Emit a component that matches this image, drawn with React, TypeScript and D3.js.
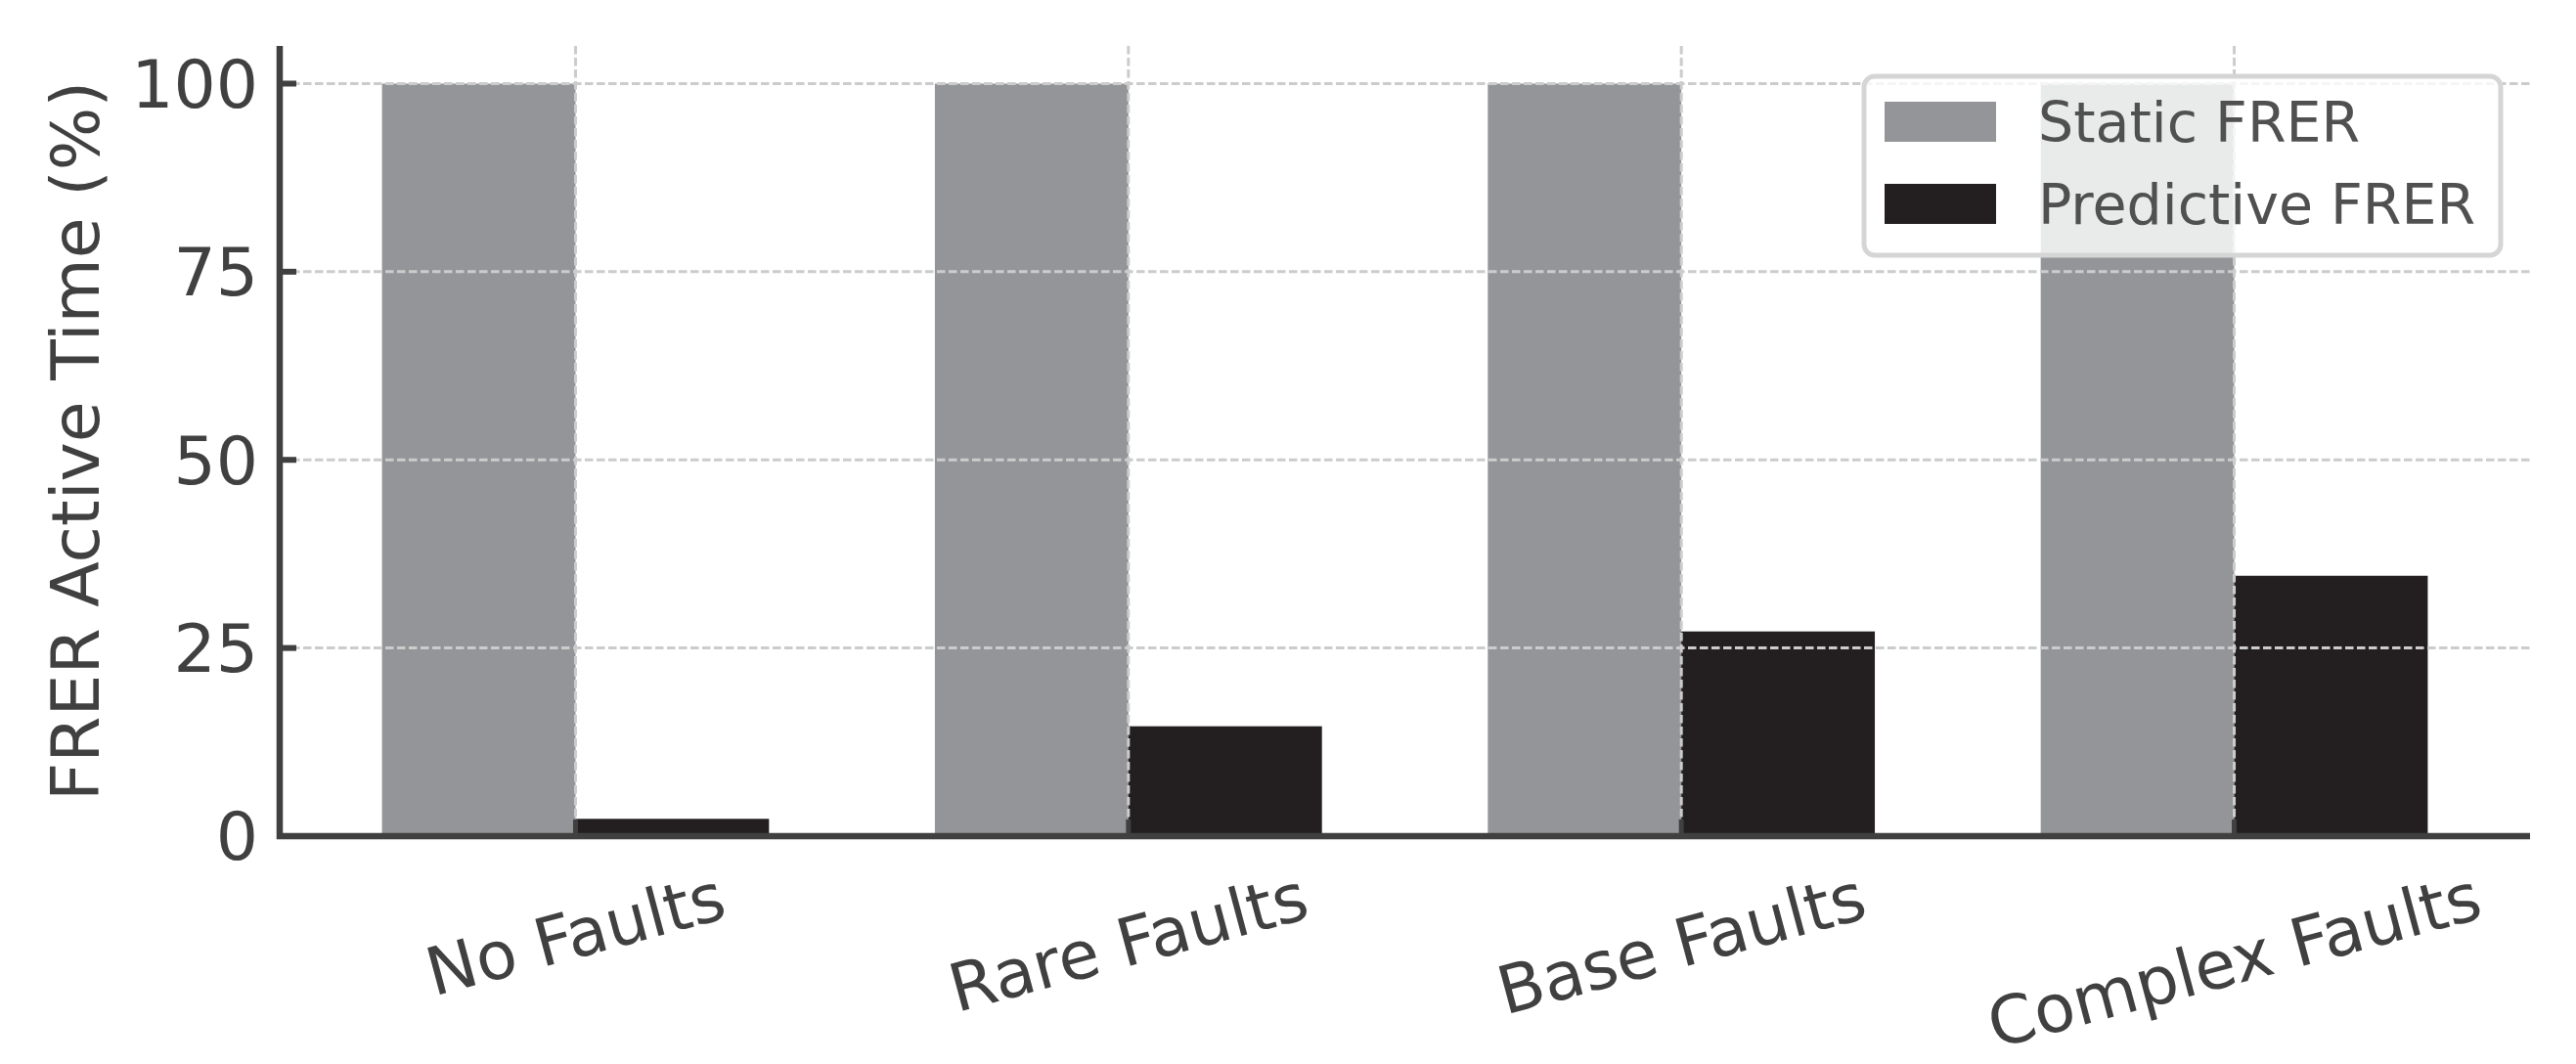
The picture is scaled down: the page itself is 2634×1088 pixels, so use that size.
import React, { useEffect, useRef } from 'react';
import * as d3 from 'd3';

const categories = ['No Faults', 'Rare Faults', 'Base Faults', 'Complex Faults'];
const staticFrer = [100, 100, 100, 100];
const predictiveFrer = [2.3, 14.6, 27.2, 34.6];
const seriesNames = ['Static FRER', 'Predictive FRER'];
const seriesColors = ['#939598', '#231f20'];
const yTicks = [0, 25, 50, 75, 100];

const App = () => {
    const ref = useRef<SVGSVGElement | null>(null);

    useEffect(() => {
        const width = 2634;
        const height = 1088;
        const margin = { top: 47, right: 47, bottom: 235, left: 286 };
        const ink = '#404040';
        const font = 'DejaVu Sans, sans-serif';

        const svg = d3.select(ref.current);
        svg.selectAll('*').remove();

        // x in category units, with matplotlib-like margins around the bars
        const barW = 0.35;
        const x = d3.scaleLinear()
            .domain([-0.535, categories.length - 1 + 0.535])
            .range([margin.left, width - margin.right]);
        const y = d3.scaleLinear()
            .domain([0, 105])
            .range([height - margin.bottom + 2, margin.top]);

        const series = [staticFrer, predictiveFrer];

        // Bars
        series.forEach((vals, s) => {
            svg.append('g')
                .selectAll('rect')
                .data(vals)
                .join('rect')
                .attr('x', (_, i) => x(i + (s === 0 ? -barW : 0)))
                .attr('width', x(barW) - x(0))
                .attr('y', d => y(d))
                .attr('height', d => y(0) - y(d))
                .attr('fill', seriesColors[s]);
        });

        // Grid (drawn over bars)
        const grid = svg.append('g')
            .attr('stroke', '#cccccc')
            .attr('stroke-width', 3)
            .attr('stroke-dasharray', '8.5,3.5');
        grid.selectAll('line.h')
            .data(yTicks.filter(t => t > 0))
            .join('line')
            .attr('x1', margin.left)
            .attr('x2', width - margin.right)
            .attr('y1', d => y(d))
            .attr('y2', d => y(d));
        grid.selectAll('line.v')
            .data(categories)
            .enter()
            .append('line')
            .attr('x1', (_, i) => x(i))
            .attr('x2', (_, i) => x(i))
            .attr('y1', y.range()[1])
            .attr('y2', y(0));

        // Y ticks (inward) and labels
        const yAxis = svg.append('g');
        yAxis.selectAll('line')
            .data(yTicks)
            .join('line')
            .attr('x1', margin.left)
            .attr('x2', margin.left + 17)
            .attr('y1', d => y(d))
            .attr('y2', d => y(d))
            .attr('stroke', ink)
            .attr('stroke-width', 6);
        yAxis.selectAll('text')
            .data(yTicks)
            .join('text')
            .attr('x', margin.left - 22)
            .attr('y', d => y(d))
            .attr('dy', '0.36em')
            .attr('text-anchor', 'end')
            .attr('font-family', font)
            .attr('font-size', 68)
            .attr('fill', ink)
            .text(d => d);

        // X ticks (inward)
        svg.append('g')
            .selectAll('line')
            .data(categories)
            .join('line')
            .attr('x1', (_, i) => x(i))
            .attr('x2', (_, i) => x(i))
            .attr('y1', y(0))
            .attr('y2', y(0) - 17)
            .attr('stroke', ink)
            .attr('stroke-width', 5);

        // Rotated x labels, bbox centred under the tick, top aligned
        const labelTop = 877;
        const rot = 15 * Math.PI / 180;
        categories.forEach((c, i) => {
            const g = svg.append('g');
            const t = g.append('text')
                .attr('font-family', font)
                .attr('font-size', 68)
                .attr('fill', ink)
                .attr('text-anchor', 'middle')
                .text(c);
            const bb = (t.node() as SVGTextElement).getBBox();
            const boxH = bb.width * Math.sin(rot) + bb.height * Math.cos(rot);
            t.attr('y', -(bb.y + bb.height / 2));
            g.attr('transform', `translate(${x(i)},${labelTop + boxH / 2}) rotate(-15)`);
        });

        // Spines
        svg.append('line')
            .attr('x1', margin.left).attr('x2', margin.left)
            .attr('y1', margin.top).attr('y2', y(0) + 3)
            .attr('stroke', ink).attr('stroke-width', 6.5);
        svg.append('line')
            .attr('x1', margin.left - 3).attr('x2', width - margin.right)
            .attr('y1', y(0)).attr('y2', y(0))
            .attr('stroke', ink).attr('stroke-width', 6.5);

        // Y axis label
        svg.append('text')
            .attr('transform', `translate(77,${(y.range()[0] + y.range()[1]) / 2}) rotate(-90)`)
            .attr('text-anchor', 'middle')
            .attr('dominant-baseline', 'central')
            .attr('font-family', font)
            .attr('font-size', 68)
            .attr('fill', ink)
            .text('FRER Active Time (%)');

        // Legend
        const legend = svg.append('g');
        legend.append('rect')
            .attr('x', 1906).attr('y', 78)
            .attr('width', 651).attr('height', 183)
            .attr('rx', 11)
            .attr('fill', 'white').attr('fill-opacity', 0.8)
            .attr('stroke', '#d5d5d5').attr('stroke-width', 5);
        seriesNames.forEach((name, s) => {
            const cy = 124.5 + s * 84;
            legend.append('rect')
                .attr('x', 1927).attr('y', cy - 20.5)
                .attr('width', 114).attr('height', 41)
                .attr('fill', seriesColors[s]);
            legend.append('text')
                .attr('x', 2084).attr('y', cy)
                .attr('dy', '0.36em')
                .attr('font-family', font)
                .attr('font-size', 57)
                .attr('fill', '#505050')
                .text(name);
        });

        return () => {
            svg.selectAll('*').remove();
        };
    }, []);

    return (
        <svg
            ref={ref}
            width={2634}
            height={1088}
            style={{ position: 'absolute', left: 0, top: 0, background: 'white' }}
        />
    );
};

export default App;
